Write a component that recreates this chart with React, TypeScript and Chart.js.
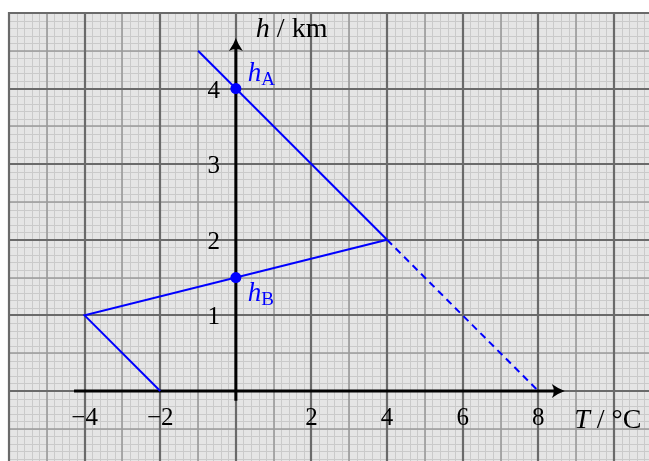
import React, { useEffect, useRef } from "react";
import { Chart, registerables } from "chart.js";

Chart.register(...registerables);

// ---- data ----
const lineASolidT = [-1, 4];
const lineASolidH = [4.5, 2];
const lineADashT = [4, 8];
const lineADashH = [2, 0];
const lineBT = [-2, -4, 4];
const lineBH = [0, 1, 2];
const markT = [0, 0];
const markH = [4, 1.5];
const markLabels = ["A", "B"];
const xTickValues = [-4, -2, 2, 4, 6, 8];
const yTickValues = [1, 2, 3, 4];

const X_MIN = -6;
const X_MAX = 10.927;
const Y_MIN = -0.926;
const Y_MAX = 5;

const BLUE = "#0000ff";
const SERIF = '"Liberation Serif", "DejaVu Serif", serif';

const toPts = (xs: number[], ys: number[]) => xs.map((x, i) => ({ x, y: ys[i] }));

function drawRuns(ctx: CanvasRenderingContext2D, runs: { t: string; f: string; dy?: number }[], x: number, y: number) {
  let cx = x;
  for (const r of runs) {
    ctx.font = r.f;
    ctx.fillText(r.t, cx, y + (r.dy || 0));
    cx += ctx.measureText(r.t).width;
  }
}

const paperPlugin = {
  id: "paper",
  beforeDatasetsDraw(chart: any) {
    const { ctx, chartArea: a, scales } = chart;
    const xs = scales.x;
    const ys = scales.y;
    ctx.save();
    ctx.fillStyle = "#e5e5e5";
    ctx.fillRect(a.left, a.top, a.right - a.left, a.bottom - a.top);

    const levels = [
      { color: "#cacaca", width: 1, xs: 0.2, ys: 0.1 },
      { color: "#9a9a9a", width: 1.6, xs: 1, ys: 0.5 },
      { color: "#6a6a6a", width: 2.2, xs: 2, ys: 1 },
    ];
    for (const lv of levels) {
      ctx.strokeStyle = lv.color;
      ctx.lineWidth = lv.width;
      ctx.beginPath();
      for (let i = Math.ceil(X_MIN / lv.xs - 1e-6); i * lv.xs <= X_MAX + 1e-6; i++) {
        const px = Math.round(xs.getPixelForValue(i * lv.xs)) + (lv.width < 1.5 ? 0.5 : 0);
        ctx.moveTo(px, a.top - (lv.width > 2 ? 1 : 0));
        ctx.lineTo(px, a.bottom);
      }
      for (let i = Math.ceil(Y_MIN / lv.ys - 1e-6); i * lv.ys <= Y_MAX + 1e-6; i++) {
        const py = Math.round(ys.getPixelForValue(i * lv.ys)) + (lv.width < 1.5 ? 0.5 : 0);
        ctx.moveTo(a.left - (lv.width > 2 ? 1 : 0), py);
        ctx.lineTo(a.right, py);
      }
      ctx.stroke();
    }

    // axes
    const x0 = xs.getPixelForValue(0);
    const y0 = ys.getPixelForValue(0);
    const xStart = xs.getPixelForValue(-4.28);
    const xTip = xs.getPixelForValue(8.7);
    const yStart = ys.getPixelForValue(-0.13);
    const yTip = ys.getPixelForValue(4.67);
    ctx.strokeStyle = "#000";
    ctx.lineWidth = 3;
    ctx.beginPath();
    ctx.moveTo(xStart, y0);
    ctx.lineTo(xTip - 6, y0);
    ctx.moveTo(x0, yStart);
    ctx.lineTo(x0, yTip + 6);
    ctx.stroke();
    ctx.fillStyle = "#000";
    ctx.beginPath();
    ctx.moveTo(xTip, y0);
    ctx.quadraticCurveTo(xTip - 6, y0 - 2, xTip - 13, y0 - 7);
    ctx.quadraticCurveTo(xTip - 9, y0, xTip - 13, y0 + 7);
    ctx.quadraticCurveTo(xTip - 6, y0 + 2, xTip, y0);
    ctx.fill();
    ctx.beginPath();
    ctx.moveTo(x0, yTip);
    ctx.quadraticCurveTo(x0 - 2, yTip + 6, x0 - 7, yTip + 13);
    ctx.quadraticCurveTo(x0, yTip + 9, x0 + 7, yTip + 13);
    ctx.quadraticCurveTo(x0 + 2, yTip + 6, x0, yTip);
    ctx.fill();

    // tick labels
    ctx.font = `25px ${SERIF}`;
    ctx.textAlign = "center";
    ctx.textBaseline = "alphabetic";
    for (const v of xTickValues) {
      const s = v < 0 ? "\u2212" + Math.abs(v) : String(v);
      ctx.fillText(s, xs.getPixelForValue(v), y0 + 34);
    }
    for (const v of yTickValues) {
      ctx.fillText(String(v), x0 - 22, ys.getPixelForValue(v) + 9);
    }

    // axis titles
    ctx.textAlign = "left";
    drawRuns(ctx, [
      { t: "h", f: `italic 28px ${SERIF}` },
      { t: " / km", f: `28px ${SERIF}` },
    ], x0 + 20, ys.getPixelForValue(4.67) - 1);
    drawRuns(ctx, [
      { t: "T", f: `italic 28px ${SERIF}` },
      { t: " / °C", f: `28px ${SERIF}` },
    ], xs.getPixelForValue(8.95), y0 + 37);
    ctx.restore();
  },
  afterDatasetsDraw(chart: any) {
    const { ctx, scales } = chart;
    const xs = scales.x;
    const ys = scales.y;
    ctx.save();
    ctx.fillStyle = BLUE;
    ctx.textAlign = "left";
    ctx.textBaseline = "alphabetic";
    markT.forEach((t, i) => {
      const px = xs.getPixelForValue(t) + 12;
      const py = ys.getPixelForValue(markH[i]) + (i === 0 ? -8 : 23);
      drawRuns(ctx, [
        { t: "h", f: `italic 27px ${SERIF}` },
        { t: markLabels[i], f: `19px ${SERIF}`, dy: 4 },
      ], px, py);
    });
    ctx.restore();
  },
};

export default function App() {
  const ref = useRef<HTMLCanvasElement | null>(null);
  useEffect(() => {
    if (!ref.current) return;
    const chart = new Chart(ref.current, {
      type: "scatter",
      data: {
        datasets: [
          { data: toPts(lineASolidT, lineASolidH), showLine: true, borderColor: BLUE, borderWidth: 2, pointRadius: 0 },
          { data: toPts(lineADashT, lineADashH), showLine: true, borderColor: BLUE, borderWidth: 2, borderDash: [7, 5], pointRadius: 0 },
          { data: toPts(lineBT, lineBH), showLine: true, borderColor: BLUE, borderWidth: 2, pointRadius: 0 },
          { data: toPts(markT, markH), showLine: false, pointRadius: 5.5, backgroundColor: BLUE, borderColor: BLUE, borderWidth: 0 },
        ],
      },
      options: {
        animation: false,
        responsive: false,
        layout: { autoPadding: false, padding: { left: 9, top: 13, right: 0, bottom: 0 } },
        plugins: { legend: { display: false }, tooltip: { enabled: false } },
        scales: {
          x: { type: "linear", min: X_MIN, max: X_MAX, display: false },
          y: { type: "linear", min: Y_MIN, max: Y_MAX, display: false },
        },
      },
      plugins: [paperPlugin],
    });
    return () => chart.destroy();
  }, []);
  return (
    <div style={{ position: "absolute", left: 0, top: 0, width: 649, height: 461 }}>
      <canvas ref={ref} width={649} height={461} style={{ width: 649, height: 461 }} />
    </div>
  );
}
